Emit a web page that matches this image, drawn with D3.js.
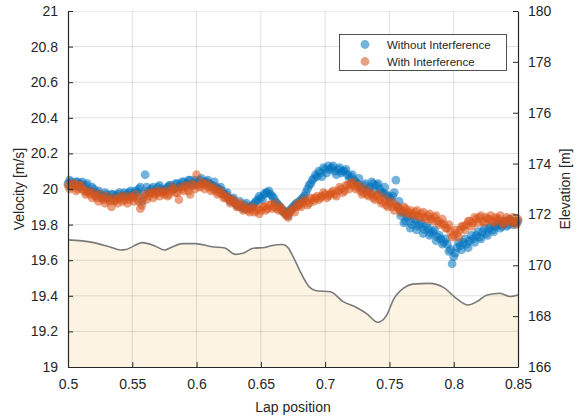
<!DOCTYPE html>
<html><head><meta charset="utf-8">
<script src="https://cdn.jsdelivr.net/npm/d3@7"></script>
<style>
body{margin:0;background:#fff;}
text{font-family:"Liberation Sans",Arial,Helvetica,sans-serif;fill:#262626;}
</style></head>
<body><svg id="c" width="579" height="418"></svg>
<script>
// ---- data ----
const xTicks = [0.5,0.55,0.6,0.65,0.7,0.75,0.8,0.85];
const xTickLabels = ["0.5","0.55","0.6","0.65","0.7","0.75","0.8","0.85"];
const vTicks = [19,19.2,19.4,19.6,19.8,20,20.2,20.4,20.6,20.8,21];
const vTickLabels = ["19","19.2","19.4","19.6","19.8","20","20.2","20.4","20.6","20.8","21"];
const eTicks = [166,168,170,172,174,176,178,180];
const eTickLabels = ["166","168","170","172","174","176","178","180"];
const seriesNames = ["Without Interference","With Interference"];

// lap positions of velocity samples, set A
const lapPosA = [
0.5000,0.5025,0.5050,0.5075,0.5100,0.5125,0.5150,0.5175,0.5200,0.5225,0.5250,0.5275,0.5300,0.5325,0.5350,0.5375,0.5400,0.5425,0.5450,0.5475,
0.5500,0.5525,0.5550,0.5575,0.5600,0.5625,0.5650,0.5675,0.5700,0.5725,0.5750,0.5775,0.5800,0.5825,0.5850,0.5875,0.5900,0.5925,0.5950,0.5975,
0.6000,0.6025,0.6050,0.6075,0.6100,0.6125,0.6150,0.6175,0.6200,0.6225,0.6250,0.6275,0.6300,0.6325,0.6350,0.6375,0.6400,0.6425,0.6450,0.6475,
0.6500,0.6525,0.6550,0.6575,0.6600,0.6625,0.6650,0.6675,0.6700,0.6725,0.6750,0.6775,0.6800,0.6825,0.6850,0.6875,0.6900,0.6925,0.6950,0.6975,
0.7000,0.7025,0.7050,0.7075,0.7100,0.7125,0.7150,0.7175,0.7200,0.7225,0.7250,0.7275,0.7300,0.7325,0.7350,0.7375,0.7400,0.7425,0.7450,0.7475,
0.7500,0.7525,0.7550,0.7575,0.7600,0.7625,0.7650,0.7675,0.7700,0.7725,0.7750,0.7775,0.7800,0.7825,0.7850,0.7875,0.7900,0.7925,0.7950,0.7975,
0.8000,0.8025,0.8050,0.8075,0.8100,0.8125,0.8150,0.8175,0.8200,0.8225,0.8250,0.8275,0.8300,0.8325,0.8350,0.8375,0.8400,0.8425,0.8450,0.8475,
0.8500];
// lap positions of velocity samples, set B
const lapPosB = [
0.50125,0.50375,0.50625,0.50875,0.51125,0.51375,0.51625,0.51875,0.52125,0.52375,0.52625,0.52875,0.53125,0.53375,0.53625,0.53875,0.54125,0.54375,0.54625,0.54875,
0.55125,0.55375,0.55625,0.55875,0.56125,0.56375,0.56625,0.56875,0.57125,0.57375,0.57625,0.57875,0.58125,0.58375,0.58625,0.58875,0.59125,0.59375,0.59625,0.59875,
0.60125,0.60375,0.60625,0.60875,0.61125,0.61375,0.61625,0.61875,0.62125,0.62375,0.62625,0.62875,0.63125,0.63375,0.63625,0.63875,0.64125,0.64375,0.64625,0.64875,
0.65125,0.65375,0.65625,0.65875,0.66125,0.66375,0.66625,0.66875,0.67125,0.67375,0.67625,0.67875,0.68125,0.68375,0.68625,0.68875,0.69125,0.69375,0.69625,0.69875,
0.70125,0.70375,0.70625,0.70875,0.71125,0.71375,0.71625,0.71875,0.72125,0.72375,0.72625,0.72875,0.73125,0.73375,0.73625,0.73875,0.74125,0.74375,0.74625,0.74875,
0.75125,0.75375,0.75625,0.75875,0.76125,0.76375,0.76625,0.76875,0.77125,0.77375,0.77625,0.77875,0.78125,0.78375,0.78625,0.78875,0.79125,0.79375,0.79625,0.79875,
0.80125,0.80375,0.80625,0.80875,0.81125,0.81375,0.81625,0.81875,0.82125,0.82375,0.82625,0.82875,0.83125,0.83375,0.83625,0.83875,0.84125,0.84375,0.84625,0.84875];

// velocity without interference [m/s]
const velNoIntA = [
20.03,20.04,20.02,20.04,20.03,20.01,20.03,19.99,20.00,19.98,19.97,19.96,19.97,19.95,19.97,19.96,19.98,19.96,19.97,19.98,
19.97,19.99,20.00,19.93,20.08,19.99,20.00,19.99,20.01,20.00,19.99,20.01,20.02,20.00,20.03,20.02,20.04,20.03,20.05,20.03,
20.04,20.05,20.03,20.04,20.03,20.02,20.01,20.00,19.99,19.97,19.95,19.94,19.92,19.91,19.90,19.91,19.89,19.90,19.92,19.94,
19.95,19.97,19.98,19.97,19.95,19.92,19.90,19.88,19.86,19.88,19.90,19.92,19.93,19.95,19.98,20.02,20.05,20.08,20.10,20.07,
20.11,20.13,20.12,20.10,20.11,20.09,20.10,20.08,20.07,20.05,20.03,20.01,20.02,19.99,20.01,20.03,20.02,20.00,19.98,19.97,
19.95,19.96,20.05,19.93,19.87,19.82,19.85,19.80,19.83,19.79,19.81,19.77,19.78,19.75,19.77,19.73,19.72,19.70,19.69,19.66,
19.62,19.67,19.68,19.70,19.69,19.71,19.72,19.74,19.73,19.76,19.75,19.78,19.77,19.79,19.80,19.79,19.81,19.80,19.82,19.81,
19.82];
const velNoIntB = [
20.05,20.02,20.04,20.01,20.04,20.02,19.99,20.01,19.97,19.99,19.95,19.98,19.95,19.97,19.94,19.97,19.95,19.98,19.96,19.99,
19.96,19.98,20.01,19.97,20.01,19.98,20.01,19.98,20.02,19.99,20.00,20.02,20.00,20.03,20.01,20.04,20.02,20.05,20.02,20.05,
20.03,20.06,20.04,20.05,20.02,20.04,20.00,20.01,19.97,19.98,19.93,19.95,19.91,19.93,19.89,19.92,19.90,19.91,19.93,19.96,
19.94,19.98,19.99,19.96,19.93,19.91,19.88,19.87,19.85,19.89,19.91,19.91,19.94,19.96,20.00,20.03,20.06,20.07,20.09,20.12,
20.09,20.11,20.13,20.08,20.12,20.10,20.11,20.06,20.08,20.04,20.06,20.00,20.03,20.00,20.04,19.99,20.03,19.98,20.01,19.96,
19.94,19.98,19.90,19.85,19.81,19.84,19.78,19.82,19.77,19.80,19.75,19.79,19.74,19.76,19.71,19.74,19.69,19.72,19.65,19.58,
19.64,19.70,19.66,19.72,19.67,19.74,19.70,19.76,19.72,19.78,19.74,19.79,19.76,19.81,19.78,19.82,19.79,19.83,19.80,19.81];

// velocity with interference [m/s]
const velIntA = [
20.02,20.01,20.03,20.00,20.02,19.99,19.98,19.97,19.98,19.95,19.97,19.94,19.96,19.93,19.95,19.94,19.95,19.93,19.96,19.94,
19.95,19.97,19.93,19.91,19.97,19.96,19.98,19.97,19.98,19.99,19.97,19.96,19.99,20.00,19.98,20.01,19.99,20.01,19.97,20.02,
20.08,20.01,20.03,20.02,20.01,20.00,19.99,19.98,19.97,19.95,19.94,19.93,19.92,19.90,19.91,19.89,19.88,19.89,19.87,19.89,
19.88,19.90,19.89,19.91,19.90,19.89,19.90,19.87,19.85,19.87,19.89,19.90,19.91,19.92,19.93,19.92,19.94,19.95,19.94,19.96,
19.97,19.96,19.98,19.97,19.99,20.00,19.99,20.02,20.03,20.02,20.01,19.99,19.98,19.97,19.98,19.95,19.96,19.94,19.93,19.91,
19.92,19.90,19.91,19.89,19.88,19.89,19.87,19.86,19.87,19.85,19.86,19.84,19.85,19.83,19.84,19.82,19.81,19.80,19.78,19.76,
19.74,19.75,19.77,19.79,19.80,19.82,19.81,19.83,19.84,19.82,19.84,19.83,19.82,19.84,19.83,19.81,19.82,19.83,19.81,19.82,
19.83];
const velIntB = [
20.00,20.03,19.99,20.02,20.00,19.97,19.99,19.95,19.96,19.93,19.95,19.92,19.94,19.90,19.93,19.92,19.96,19.94,19.92,19.96,
19.93,19.95,19.89,19.95,19.94,19.98,19.95,19.99,19.96,19.98,19.99,19.97,20.01,19.98,19.94,20.00,20.02,19.99,20.03,20.00,
20.02,20.04,20.00,20.03,19.99,20.01,19.97,19.99,19.95,19.96,19.92,19.94,19.90,19.92,19.88,19.90,19.87,19.90,19.88,19.86,
19.90,19.88,19.91,19.89,19.92,19.88,19.89,19.86,19.84,19.88,19.87,19.92,19.90,19.94,19.91,19.95,19.93,19.96,19.95,19.98,
19.95,19.97,19.99,19.96,20.01,19.98,20.02,20.00,20.04,20.00,20.02,19.97,20.00,19.96,19.97,19.94,19.97,19.92,19.95,19.90,
19.93,19.88,19.90,19.87,19.90,19.86,19.88,19.85,19.88,19.84,19.87,19.83,19.86,19.82,19.85,19.80,19.83,19.78,19.80,19.73,
19.77,19.73,19.79,19.77,19.82,19.79,19.84,19.81,19.85,19.81,19.83,19.85,19.81,19.83,19.85,19.80,19.84,19.82,19.84,19.80];

// elevation profile [m]
const elevPos = [0.5,0.519,0.532,0.541,0.545,0.558,0.568,0.575,0.581,0.589,0.599,0.612,0.622,0.63,0.636,0.644,0.653,0.658,0.667,0.671,0.675,0.68,0.688,0.693,0.704,0.714,0.724,0.732,0.741,0.748,0.753,0.761,0.768,0.781,0.792,0.802,0.811,0.818,0.826,0.836,0.844,0.85];
const elevVal = [171.0,170.9,170.73,170.6,170.62,170.89,170.75,170.6,170.72,170.85,170.85,170.73,170.68,170.43,170.47,170.67,170.7,170.77,170.82,170.7,170.35,169.82,169.13,169.0,168.96,168.57,168.35,168.11,167.76,168.05,168.64,169.10,169.26,169.29,169.13,168.70,168.44,168.57,168.83,168.9,168.77,168.83];

// ---- drawing ----
const L=68,R=518,T=11,B=367;
const svg=d3.select("#c");
const x=d3.scaleLinear().domain([0.5,0.85]).range([L,R]);
const yV=d3.scaleLinear().domain([19,21]).range([B,T]);
const yE=d3.scaleLinear().domain([166,180]).range([B,T]);

const elev=elevPos.map((p,i)=>({p,v:elevVal[i]}));
svg.append("path").datum(elev)
 .attr("d",d3.area().x(d=>x(d.p)).y0(yE(166)).y1(d=>yE(d.v)).curve(d3.curveMonotoneX))
 .attr("fill","#fcf3e2");

// grid
const g=svg.append("g");
g.selectAll(".gx").data(xTicks.slice(1,-1)).join("line")
 .attr("x1",d=>x(d)).attr("x2",d=>x(d)).attr("y1",T).attr("y2",B)
 .attr("stroke","#000").attr("stroke-opacity",0.12).attr("stroke-width",1);
g.selectAll(".gy").data(vTicks.slice(1,-1)).join("line")
 .attr("y1",d=>yV(d)).attr("y2",d=>yV(d)).attr("x1",L).attr("x2",R)
 .attr("stroke","#000").attr("stroke-opacity",0.12).attr("stroke-width",1);
g.append("line").attr("x1",L).attr("x2",R).attr("y1",T+0.5).attr("y2",T+0.5)
 .attr("stroke","#000").attr("stroke-opacity",0.08);

svg.append("path").datum(elev)
 .attr("d",d3.line().x(d=>x(d.p)).y(d=>yE(d.v)).curve(d3.curveMonotoneX))
 .attr("fill","none").attr("stroke","#7a7a7a").attr("stroke-width",1.6);

const colors=["#0072BD","#D95319"];
const sets=[[velNoIntA,velNoIntB],[velIntA,velIntB]];
sets.forEach((pair,k)=>{
  const pts=lapPosA.map((p,i)=>({p,v:pair[0][i]})).concat(lapPosB.map((p,i)=>({p,v:pair[1][i]})));
  svg.append("g").selectAll("circle").data(pts).join("circle")
   .attr("cx",d=>x(d.p)).attr("cy",d=>yV(d.v)).attr("r",4.4)
   .attr("fill",colors[k]).attr("fill-opacity",0.55);
});

// axes
const ax=d3.axisBottom(x).tickValues(xTicks).tickFormat((d,i)=>xTickLabels[i]).tickSizeInner(-5).tickSizeOuter(0).tickPadding(12);
const gax=svg.append("g").attr("transform",`translate(0,${B})`).call(ax);
const al=d3.axisLeft(yV).tickValues(vTicks).tickFormat((d,i)=>vTickLabels[i]).tickSizeInner(-5).tickSizeOuter(0).tickPadding(10);
const gal=svg.append("g").attr("transform",`translate(${L},0)`).call(al);
const ar=d3.axisRight(yE).tickValues(eTicks).tickFormat((d,i)=>eTickLabels[i]).tickSizeInner(-5).tickSizeOuter(0).tickPadding(10);
const gar=svg.append("g").attr("transform",`translate(${R},0)`).call(ar);
[gax,gal,gar].forEach(a=>{
  a.selectAll("path").attr("stroke","#262626").attr("stroke-width",1.2);
  a.selectAll("line").attr("stroke","#262626");
  a.selectAll("text").attr("font-size",14).attr("fill","#262626").style("font-family","Liberation Sans, Arial, sans-serif");
});

svg.append("text").attr("x",(L+R)/2).attr("y",412).attr("text-anchor","middle").attr("font-size",14).text("Lap position");
svg.append("text").attr("transform","translate(24,189) rotate(-90)").attr("text-anchor","middle").attr("font-size",14).text("Velocity [m/s]");
svg.append("text").attr("transform","translate(570,189) rotate(-90)").attr("text-anchor","middle").attr("font-size",14).text("Elevation [m]");

// legend
const lg=svg.append("g");
lg.append("rect").attr("x",339.5).attr("y",34.5).attr("width",167).attr("height",36).attr("fill","#fff").attr("stroke","#262626").attr("stroke-width",0.8);
seriesNames.forEach((n,i)=>{
  const yy=44.5+i*17;
  lg.append("circle").attr("cx",365).attr("cy",yy).attr("r",4.4).attr("fill",colors[i]).attr("fill-opacity",0.55);
  lg.append("text").attr("x",387).attr("y",yy+4).attr("font-size",11.5).text(n);
});
</script></body></html>
